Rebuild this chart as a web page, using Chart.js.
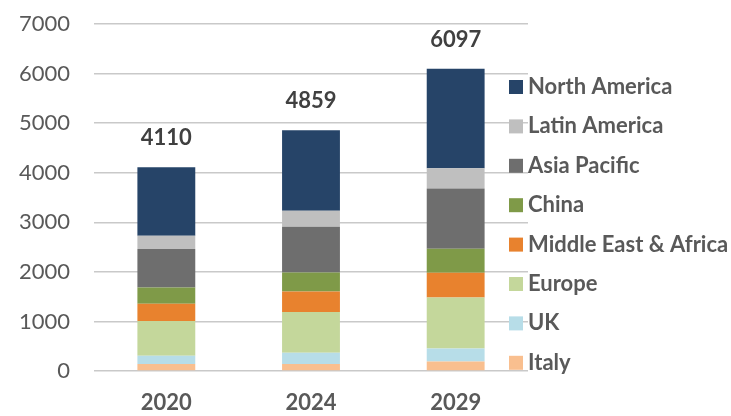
<!DOCTYPE html>
<html>
<head>
<meta charset="utf-8">
<script src="https://cdn.jsdelivr.net/npm/chart.js@4.4.0/dist/chart.umd.min.js"></script>
<style>
  html, body { margin: 0; padding: 0; background: #fff; }
  #wrap { width: 731px; height: 416px; }
</style>
</head>
<body>
<div id="wrap"><canvas id="chart" width="731" height="416"></canvas></div>
<script>
/* =========================
   Data
========================= */

const years = ["2020", "2024", "2029"];
const totals = [4110, 4859, 6097];

// stacked from bottom to top
const italy = [140, 140, 190];
const uk = [170, 230, 265];
const europe = [700, 820, 1030];
const middleEastAfrica = [345, 415, 495];
const china = [330, 380, 485];
const asiaPacific = [775, 925, 1215];
const latinAmerica = [270, 325, 410];
const northAmerica = [1380, 1624, 2007];

const yTicks = [0, 1000, 2000, 3000, 4000, 5000, 6000, 7000];

const FONT = "Lato, 'Open Sans', sans-serif";

const datasets = [
  { label: "Italy", data: italy, backgroundColor: "#f9bf8f" },
  { label: "UK", data: uk, backgroundColor: "#b7dde8" },
  { label: "Europe", data: europe, backgroundColor: "#c4d79b" },
  { label: "Middle East & Africa", data: middleEastAfrica, backgroundColor: "#e8822e" },
  { label: "China", data: china, backgroundColor: "#7f9a48" },
  { label: "Asia Pacific", data: asiaPacific, backgroundColor: "#6e6e6e" },
  { label: "Latin America", data: latinAmerica, backgroundColor: "#bfbfbf" },
  { label: "North America", data: northAmerica, backgroundColor: "#264468" }
];

/* =========================
   Plugins: totals + legend
========================= */

const totalsPlugin = {
  id: "totals",
  afterDatasetsDraw(chart) {
    const ctx = chart.ctx;
    const yScale = chart.scales.y;
    const xScale = chart.scales.x;
    ctx.save();
    ctx.font = "bold 22px " + FONT;
    ctx.fillStyle = "#404040";
    ctx.textAlign = "center";
    ctx.textBaseline = "middle";
    totals.forEach((t, i) => {
      ctx.fillText(String(t), xScale.getPixelForValue(i), yScale.getPixelForValue(t) - 29);
    });
    ctx.restore();
  }
};

const legendPlugin = {
  id: "sideLegend",
  afterDraw(chart) {
    const ctx = chart.ctx;
    const items = chart.data.datasets.slice().reverse();
    ctx.save();
    ctx.font = "bold 22px " + FONT;
    ctx.textBaseline = "middle";
    items.forEach((ds, i) => {
      const y = 87 + i * 39.4;
      ctx.fillStyle = ds.backgroundColor;
      ctx.fillRect(509, y - 7, 14, 14);
      ctx.fillStyle = "#595959";
      ctx.fillText(ds.label, 528, y);
    });
    ctx.restore();
  }
};

/* =========================
   Chart
========================= */

new Chart(document.getElementById("chart"), {
  type: "bar",
  data: { labels: years, datasets: datasets },
  options: {
    responsive: false,
    animation: false,
    layout: { padding: { top: 24, right: 203, left: 0, bottom: 0 } },
    datasets: {
      bar: { barPercentage: 0.4, categoryPercentage: 1, borderWidth: 0 }
    },
    plugins: {
      legend: { display: false },
      tooltip: { enabled: false }
    },
    scales: {
      x: {
        stacked: true,
        grid: { display: false, drawTicks: false },
        border: { display: false },
        ticks: {
          color: "#595959",
          font: { family: FONT, size: 22, weight: "bold" },
          padding: 19
        },
        afterFit(scale) { scale.height = 45; }
      },
      y: {
        stacked: true,
        min: 0,
        max: 7000,
        afterBuildTicks(scale) { scale.ticks = yTicks.map(v => ({ value: v })); },
        grid: { color: "#c9c9c9", lineWidth: 1.5, drawTicks: false },
        border: { display: false },
        ticks: {
          color: "#595959",
          font: { family: FONT, size: 22 },
          padding: 24,
          callback: v => String(v)
        },
        afterFit(scale) {
          scale.width = 94;
          scale.paddingTop = 0;
          scale.paddingBottom = 0;
        }
      }
    }
  },
  plugins: [totalsPlugin, legendPlugin]
});
</script>
</body>
</html>
